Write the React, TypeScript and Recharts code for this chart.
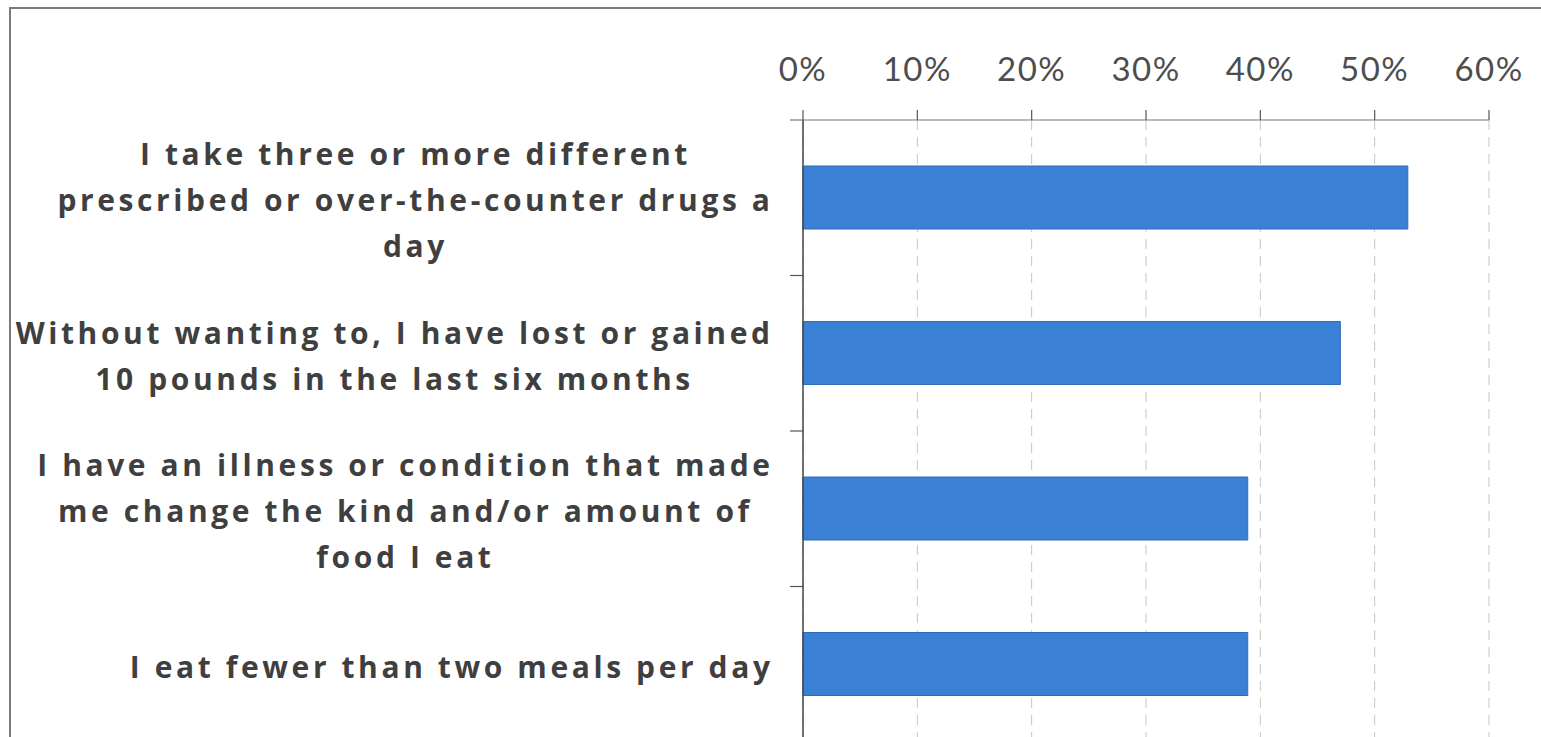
import React from "react";
import { BarChart, Bar, XAxis, YAxis, CartesianGrid } from "recharts";

const categories: string[][] = [
  ["I take three or more different", "prescribed or over-the-counter drugs a", "day"],
  ["Without wanting to, I have lost or gained", "10 pounds in the last six months"],
  ["I have an illness or condition that made", "me change the kind and/or amount of", "food I eat"],
  ["I eat fewer than two meals per day"],
];
const shares: number[] = [0.529, 0.47, 0.389, 0.389];
const xTicks: number[] = [0, 0.1, 0.2, 0.3, 0.4, 0.5, 0.6];

const data = categories.map((lines, i) => ({ name: lines.join(" "), value: shares[i], lines }));

const LABEL_FONT = "Open Sans";
const LABEL_SIZE = 30;
const LABEL_SPACING = 3.6;

let ctx: CanvasRenderingContext2D | null = null;
function measure(text: string): number {
  if (!ctx) {
    const c = document.createElement("canvas");
    ctx = c.getContext("2d");
  }
  if (!ctx) return text.length * LABEL_SIZE * 0.6;
  ctx.font = `bold ${LABEL_SIZE}px "${LABEL_FONT}"`;
  return ctx.measureText(text).width + LABEL_SPACING * text.length;
}

const YTick = (props: any) => {
  const { x, y, payload, index } = props;
  const lines: string[] = categories[index] || [payload.value];
  const half = payload.offset ?? 77.75;
  const right = x - 33 + LABEL_SPACING;
  const maxW = Math.max(...lines.map(measure));
  const cx = right - maxW / 2;
  const lh = 46;
  const startY = y - ((lines.length - 1) * lh) / 2 + 3;
  return (
    <g>
      <line x1={x - 13} x2={x} y1={y + half} y2={y + half} stroke="#555" strokeWidth={1.2} />
      {index === 0 && <line x1={x - 13} x2={x} y1={y - half} y2={y - half} stroke="#777" strokeWidth={1.2} />}
      <text
        x={cx}
        y={startY}
        textAnchor="middle"
        fill="#3f3f3f"
        fontFamily={LABEL_FONT}
        fontWeight="bold"
        fontSize={LABEL_SIZE}
        letterSpacing={LABEL_SPACING}
      >
        {lines.map((l, i) => (
          <tspan key={i} x={cx} y={startY + i * lh} dy="0.35em">
            {l}
          </tspan>
        ))}
      </text>
    </g>
  );
};

const XTick = (props: any) => {
  const { x, y, payload } = props;
  return (
    <text
      x={x}
      y={y}
      dy="0.35em"
      textAnchor="middle"
      fill="#4d4d4d"
      fontFamily="Lato"
      fontSize={33}
      letterSpacing={1.5}
    >
      {`${Math.round(payload.value * 100)}%`}
    </text>
  );
};

export default function App() {
  return (
    <div
      style={{
        position: "fixed",
        left: 0,
        top: 0,
        width: 1541,
        height: 737,
        overflow: "hidden",
        background: "#fff",
      }}
    >
      <div
        style={{
          position: "absolute",
          left: 9,
          top: 7,
          width: 1600,
          height: 800,
          border: "2px solid #7a7a7a",
          boxSizing: "border-box",
        }}
      />
      <div style={{ position: "absolute", left: 0, top: 0 }}>
        <BarChart
          width={1541}
          height={760}
          data={data}
          layout="vertical"
          margin={{ top: 0, right: 52, bottom: 18, left: 0 }}
        >
          <CartesianGrid horizontal={false} vertical stroke="#c4c4c4" strokeDasharray="10 7" />
          <XAxis
            type="number"
            orientation="top"
            domain={[0, 0.6]}
            ticks={xTicks}
            height={120}
            tickSize={10}
            tickMargin={41}
            axisLine={{ stroke: "#777", strokeWidth: 1.2 }}
            tickLine={{ stroke: "#555", strokeWidth: 1.2 }}
            tick={<XTick />}
            interval={0}
          />
          <YAxis
            type="category"
            dataKey="name"
            width={803}
            tickSize={0}
            tickMargin={0}
            tickLine={false}
            axisLine={{ stroke: "#444", strokeWidth: 1.5 }}
            tick={<YTick />}
            interval={0}
          />
          <Bar
            dataKey="value"
            fill="#3a80d5"
            stroke="#2f6cbc"
            strokeWidth={1}
            barSize={63}
            isAnimationActive={false}
          />
        </BarChart>
      </div>
    </div>
  );
}
